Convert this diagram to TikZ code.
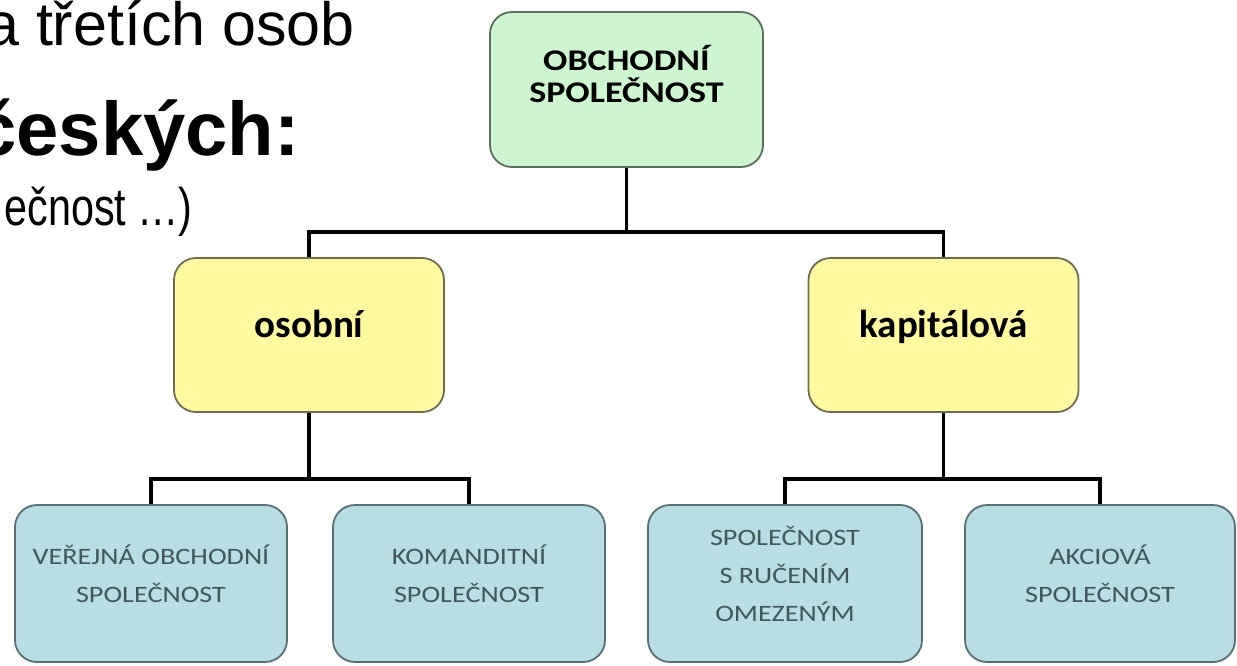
\documentclass[tikz,border=0pt]{standalone}
\usepackage{fontspec}
\usepackage{xcolor}
\setmainfont{Liberation Sans}
\newfontfamily\boxfont[FakeStretch=1.2]{Carlito}
\newfontfamily\capfont{Carlito}
\newfontfamily\narrowfont[FakeStretch=0.78]{Liberation Sans}
\usetikzlibrary{positioning, calc}

\definecolor{topfill}{RGB}{204,245,208}
\definecolor{topline}{RGB}{90,110,92}
\definecolor{midfill}{RGB}{255,250,160}
\definecolor{midline}{RGB}{110,108,80}
\definecolor{lowfill}{RGB}{183,222,228}
\definecolor{lowline}{RGB}{88,112,116}
\definecolor{lowtext}{RGB}{62,88,92}

\begin{document}
\begin{tikzpicture}[
    x=1pt, y=-1pt,
    box/.style={rectangle, rounded corners=22pt, line width=1.8pt, inner sep=0pt, align=center},
    topbox/.style={box, draw=topline, fill=topfill, minimum width=273pt, minimum height=155pt,
        font=\boxfont\bfseries\fontsize{30}{32}\selectfont, text depth=31pt},
    midbox/.style={box, draw=midline, fill=midfill, minimum width=270pt, minimum height=154pt,
        font=\capfont\bfseries\fontsize{39}{44}\selectfont, text depth=22pt},
    lowbox/.style={box, draw=lowline, fill=lowfill, minimum width=272pt, minimum height=157pt,
        text=lowtext, font=\boxfont\fontsize{23.5}{38}\selectfont, text depth=20pt},
    conn/.style={line width=3.4pt, black}
]
\useasboundingbox (0,0) rectangle (1237,665);
\clip (0,0) rectangle (1237,665);

% slide text behind the diagram
\node[anchor=base east, inner sep=0pt, font=\fontsize{61}{66}\selectfont] (line1) at (355,45) {a třetích osob};
\node[anchor=base east, inner sep=0pt, font=\bfseries\fontsize{76}{84}\selectfont] (line2) at (300,155) {českých:};
\node[anchor=base east, inner sep=0pt, font=\narrowfont\fontsize{53}{60}\selectfont] (line3) at (193,225) {ečnost …)};

% tree
\node[topbox] (spol) at (626.5,89.5) {OBCHODNÍ\\SPOLEČNOST};
\node[midbox] (osobni) at (309,335) {osobní};
\node[midbox] (kapital) at (943.5,335) {kapitálová};

\node[lowbox] (vos) at (151,583.5) {VEŘEJNÁ OBCHODNÍ\\SPOLEČNOST};
\node[lowbox] (ks) at (469,583.5) {KOMANDITNÍ\\SPOLEČNOST};
\node[lowbox, minimum width=274pt] (sro) at (785,583.5) {SPOLEČNOST\\S RUČENÍM\\OMEZENÝM};
\node[lowbox, minimum width=270pt] (as) at (1100,583.5) {AKCIOVÁ\\SPOLEČNOST};

\coordinate (split) at (626.5,232);
\coordinate (splitA) at ($(osobni.south)+(0,66)$);
\coordinate (splitB) at ($(kapital.south)+(0,66)$);

\draw[conn] (spol.south) -- (split);
\draw[conn] (osobni.north) |- (split) -| (kapital.north);
\draw[conn] (osobni.south) -- (splitA);
\draw[conn] (vos.north) |- (splitA) -| (ks.north);
\draw[conn] (kapital.south) -- (splitB);
\draw[conn] (sro.north) |- (splitB) -| (as.north);
\end{tikzpicture}
\end{document}
